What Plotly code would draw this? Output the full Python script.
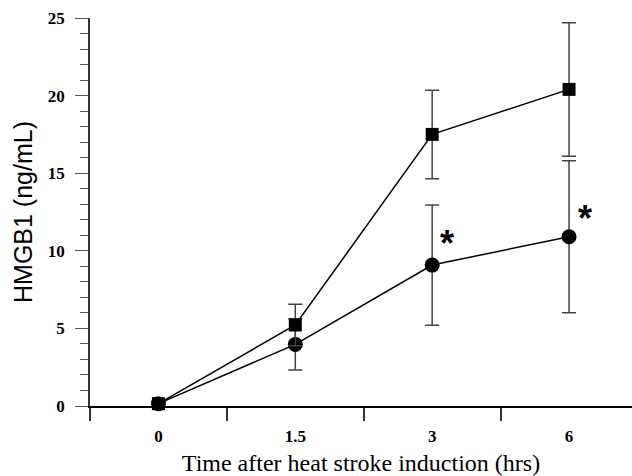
import plotly.graph_objects as go

categories = ["0", "1.5", "3", "6"]
square_vals = [0.15, 5.22, 17.5, 20.4]
square_err = [0.0, 1.33, 2.85, 4.3]
circle_vals = [0.15, 3.97, 9.08, 10.91]
circle_err = [0.0, 1.65, 3.87, 4.9]
y_ticks = [0, 5, 10, 15, 20, 25]
star_x = [2.11, 3.12]
star_y = [10.5, 12.1]

fig = go.Figure()
fig.add_trace(go.Scatter(
    x=categories, y=circle_vals, mode="lines+markers",
    line=dict(color="black", width=1.5),
    marker=dict(symbol="circle", size=15, color="black"),
    error_y=dict(type="data", array=circle_err, visible=True, color="#444", thickness=1.5, width=7),
    cliponaxis=False, showlegend=False))
fig.add_trace(go.Scatter(
    x=categories, y=square_vals, mode="lines+markers",
    line=dict(color="black", width=1.5),
    marker=dict(symbol="square", size=13, color="black"),
    error_y=dict(type="data", array=square_err, visible=True, color="#444", thickness=1.5, width=7),
    cliponaxis=False, showlegend=False))

for sx, sy in zip(star_x, star_y):
    fig.add_annotation(x=sx, y=sy, text="<b>*</b>", showarrow=False,
                       font=dict(family="Liberation Sans", size=36, color="black"),
                       xanchor="center", yanchor="middle")

fig.update_layout(
    width=632, height=476,
    margin=dict(l=90, r=0, t=18, b=70),
    plot_bgcolor="white", paper_bgcolor="white",
    xaxis=dict(
        type="category", range=[-0.5, 3.46], tickson="boundaries",
        tickvals=categories, ticktext=["<b>%s</b>" % c for c in categories],
        ticks="outside", ticklen=13, tickcolor="#333", tickwidth=1.5,
        showline=True, linecolor="black", linewidth=2,
        showgrid=False, zeroline=False, automargin=False,
        tickfont=dict(family="Liberation Serif", size=17, color="black"),
        ticklabelstandoff=14,
        title=dict(text="Time after heat stroke induction (hrs)",
                   font=dict(family="Liberation Serif", size=24, color="black"), standoff=11),
    ),
    yaxis=dict(
        range=[0, 25], tickvals=y_ticks, ticktext=["<b>%d</b>" % v for v in y_ticks],
        ticks="outside", ticklen=13, tickcolor="#555", tickwidth=1.2,
        minor=dict(dtick=1, ticks="outside", ticklen=8, tickcolor="#555", tickwidth=1.2),
        showline=True, linecolor="#333", linewidth=1.5,
        showgrid=False, zeroline=False, automargin=False,
        tickfont=dict(family="Liberation Serif", size=17, color="black"),
        ticklabelstandoff=7,
        title=dict(text="HMGB1 (ng/mL)",
                   font=dict(family="Liberation Sans", size=25, color="black"), standoff=8),
    ),
)

fig.write_html("out.html")
